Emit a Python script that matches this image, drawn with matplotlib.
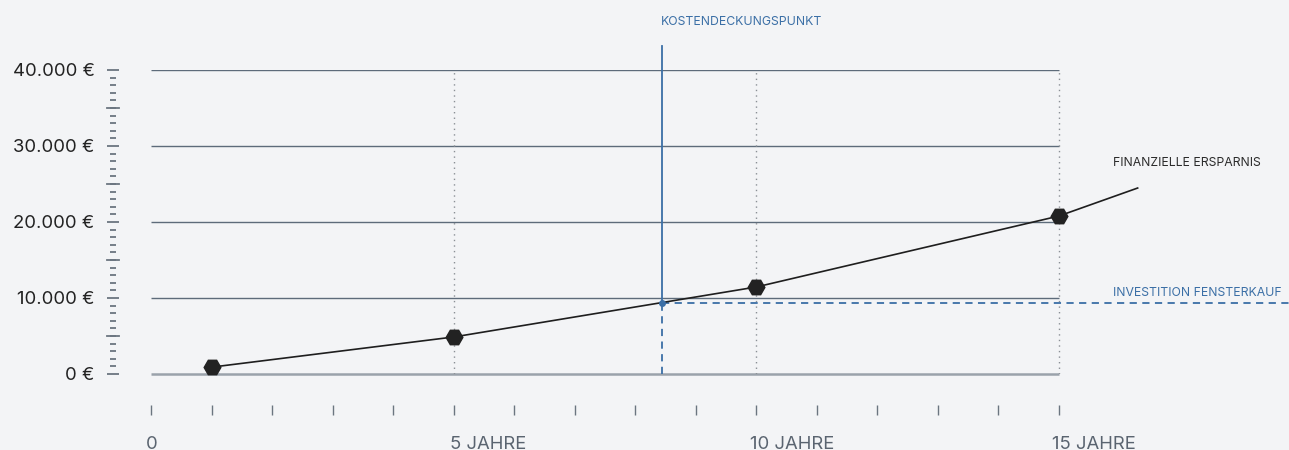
import numpy as np
import matplotlib.pyplot as plt
from matplotlib.ticker import FixedLocator, MultipleLocator

plt.rcParams['font.family'] = ['Inter', 'DejaVu Sans']

# data
years = [1, 5, 10, 15, 16.3]
savings = [900, 4870, 11450, 20790, 24470]
marked = [0, 1, 2, 3]
investment = 9300
breakeven_year = 8.45
y_ticks = [0, 10000, 20000, 30000, 40000]
x_tick_years = list(range(0, 16))
x_label_years = [0, 5, 10, 15]
x_labels = ['0', '5 JAHRE', '10 JAHRE', '15 JAHRE']
x_label_shift = [-5.5, -3.5, -6.5, -6.5]   # px, so the number sits on the tick
vline_years = [5, 10, 15]

bg = '#f3f4f6'
blue = '#3b6fa6'
grid_col = '#5d6b7a'
tick_col = '#6b7580'
W, H = 1289, 450

fig = plt.figure(figsize=(W / 100, H / 100), dpi=100, facecolor=bg)
ax = fig.add_axes([151 / W, (H - 374) / H, (W - 151) / W, (374 - 70) / H])
ax.set_facecolor(bg)
ax.set_xlim(0, (W - 151) / 60.53)
ax.set_ylim(0, 40000)

# grid
ax.hlines(y_ticks[1:], 0, 15, color=grid_col, lw=1, zorder=1)
ax.hlines(0, 0, 15, color='#9aa2ab', lw=1.8, zorder=1, clip_on=False)
ax.vlines(vline_years, 0, 40000, color='#8a8f95', lw=1, linestyles=(0, (1, 3)), zorder=1)

# break-even and investment
ax.plot([breakeven_year, breakeven_year], [investment, 43150], color=blue, lw=1.3, clip_on=False, zorder=2)
ax.plot([breakeven_year, breakeven_year], [0, investment], color=blue, lw=1.3, ls=(0, (4, 3)), clip_on=False, zorder=2)
ax.plot([breakeven_year, ax.get_xlim()[1]], [investment, investment], color=blue, lw=1.3,
        ls=(0, (4, 3)), clip_on=False, zorder=2)
ax.plot([breakeven_year], [investment], 'o', color=blue, ms=4, zorder=4)

# savings curve
ax.plot(years, savings, color='#1e1e1e', lw=1.2, marker='H', ms=12, markevery=marked,
        mfc='#222222', mec='#222222', clip_on=False, zorder=3)

# annotations (spaced caps)
def spaced(s):
    return '\u200a'.join(s)

ax.text(8.43, 46316, 'KOSTENDECKUNGSPUNKT', color=blue, fontsize=8.8, va='center', ha='left')
ax.text(15.89, 27763, 'FINANZIELLE ERSPARNIS', color='#2b2b2b', fontsize=8.8, va='center', ha='left')
ax.text(15.89, 10658, 'INVESTITION FENSTERKAUF', color=blue, fontsize=8.8, va='center', ha='left')

# axes styling
for s in ['top', 'right']:
    ax.spines[s].set_visible(False)
ax.spines['left'].set_position(('outward', 38 * 0.72))
ax.spines['left'].set_color('none')
ax.spines['bottom'].set_position(('outward', 36 * 0.72))
ax.spines['bottom'].set_color('none')

ax.yaxis.set_major_locator(FixedLocator(y_ticks))
ax.yaxis.set_minor_locator(MultipleLocator(1000))
ax.set_yticklabels([f'{v:,}'.replace(',', '.') + ' €' for v in y_ticks])
ax.tick_params(axis='y', which='major', direction='inout', length=12 * 0.72, width=1.3,
               color=tick_col, pad=9, labelsize=13.3, labelcolor='#222222')
ax.tick_params(axis='y', which='minor', direction='inout', length=6 * 0.72, width=1.3, color=tick_col)
# every fifth minor tick a bit longer
for v in range(5000, 40000, 10000):
    ax.plot([-44 / 60.53, -32 / 60.53], [v, v], color=tick_col, lw=1.3, clip_on=False)

ax.xaxis.set_major_locator(FixedLocator(x_tick_years))
ax.set_xticklabels([])
ax.tick_params(axis='x', which='major', direction='inout', length=10 * 0.72, width=1, color=tick_col)
for yr, lab, dx in zip(x_label_years, x_labels, x_label_shift):
    ax.annotate(lab, (yr, 0), xytext=(dx * 0.72, -62 * 0.72), textcoords='offset points',
                ha='left', va='top', fontsize=13.3, color='#5a6470', annotation_clip=False)

fig.savefig('out.png', dpi=100, facecolor=bg)
